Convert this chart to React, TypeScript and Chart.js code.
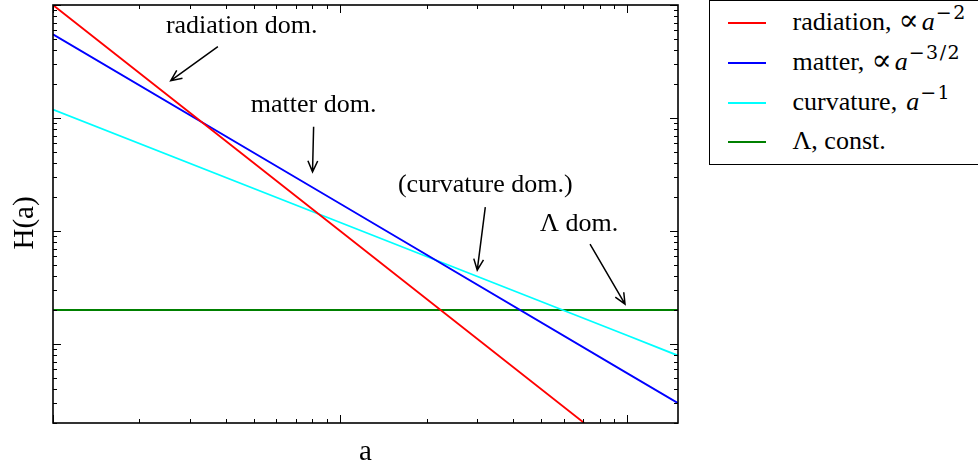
import React, { useEffect, useRef } from "react";
import { Chart, registerables } from "chart.js";

Chart.register(...registerables);

// ---- data (log-log axes) ----
const xRange = [0.01, 1.5];
const yRange = [0.2, 1000];

const radiationA = [0.01, 0.1, 0.707];
const radiationH = [1000, 10, 0.2];

const matterA = [0.01, 0.1, 1, 1.5];
const matterH = [550, 17.4, 0.55, 0.3];

const curvatureA = [0.01, 0.1, 1, 1.5];
const curvatureH = [119, 11.9, 1.19, 0.79];

const lambdaA = [0.01, 0.1, 1, 1.5];
const lambdaH = [2, 2, 2, 2];

const seriesNames = ["radiation,", "matter,", "curvature,", "Λ, const."];
const seriesProp = ["∝", "∝", "", ""];
const seriesExp = ["−2", "−3/2", "−1", ""];
const seriesColors = ["#ff0000", "#0000ff", "#00ffff", "#008000"];

const annotationTexts = ["radiation dom.", "matter dom.", "(curvature dom.)", "Λ dom."];
const annotationTextA = [0.0454, 0.0808, 0.32, 0.679];
const annotationTextH = [646, 131, 25.6, 11.5];
const arrowTailA = [0.0375, 0.0808, 0.32, 0.741];
const arrowTailH = [429, 83.7, 16.3, 7.67];
const arrowHeadA = [0.0257, 0.0801, 0.3, 0.981];
const arrowHeadH = [214, 33.4, 4.51, 2.25];

const xTitle = "a";
const yTitle = "H(a)";

const SERIF = '"Liberation Serif", "Times New Roman", Times, serif';

function logTickValues(min: number, max: number) {
  const out: { v: number; major: boolean }[] = [];
  const e0 = Math.floor(Math.log10(min));
  const e1 = Math.ceil(Math.log10(max));
  for (let e = e0; e <= e1; e++) {
    for (let k = 1; k <= 9; k++) {
      const v = k * Math.pow(10, e);
      if (v >= min * 0.9999 && v <= max * 1.0001) out.push({ v, major: k === 1 });
    }
  }
  return out;
}

const framePlugin = {
  id: "frameTicks",
  afterDatasetsDraw(chart: any) {
    const { ctx, chartArea, scales } = chart;
    const { left, right, top, bottom } = chartArea;
    ctx.save();
    ctx.strokeStyle = "#000";
    ctx.lineWidth = 1;
    const majorLen = 8;
    const minorLen = 4;
    const xs = scales.x;
    const ys = scales.y;
    for (const t of logTickValues(xRange[0], xRange[1])) {
      const px = Math.round(xs.getPixelForValue(t.v)) + 0.5;
      const len = t.major ? majorLen : minorLen;
      ctx.beginPath();
      ctx.moveTo(px, bottom);
      ctx.lineTo(px, bottom - len);
      ctx.moveTo(px, top);
      ctx.lineTo(px, top + len);
      ctx.stroke();
    }
    for (const t of logTickValues(yRange[0], yRange[1])) {
      const py = Math.round(ys.getPixelForValue(t.v)) + 0.5;
      const len = t.major ? majorLen : minorLen;
      ctx.beginPath();
      ctx.moveTo(left, py);
      ctx.lineTo(left + len, py);
      ctx.moveTo(right, py);
      ctx.lineTo(right - len, py);
      ctx.stroke();
    }
    ctx.lineWidth = 1.6;
    ctx.strokeRect(left, top, right - left, bottom - top);
    ctx.restore();
  },
};

const yTitlePlugin = {
  id: "yTitle",
  afterDraw(chart: any) {
    const { ctx, chartArea } = chart;
    ctx.save();
    ctx.fillStyle = "#000";
    ctx.font = `29px ${SERIF}`;
    ctx.textAlign = "center";
    ctx.textBaseline = "middle";
    ctx.translate(chartArea.left - 28, (chartArea.top + chartArea.bottom) / 2 + 9);
    ctx.rotate(-Math.PI / 2);
    ctx.fillText(yTitle, 0, 0);
    ctx.restore();
  },
};

const annotationPlugin = {
  id: "domAnnotations",
  afterDraw(chart: any) {
    const { ctx, scales } = chart;
    const xs = scales.x;
    const ys = scales.y;
    ctx.save();
    ctx.fillStyle = "#000";
    ctx.strokeStyle = "#000";
    ctx.lineWidth = 1.5;
    ctx.font = `26px ${SERIF}`;
    ctx.textAlign = "center";
    ctx.textBaseline = "middle";
    for (let i = 0; i < annotationTexts.length; i++) {
      const tx = xs.getPixelForValue(annotationTextA[i]);
      const ty = ys.getPixelForValue(annotationTextH[i]);
      ctx.fillText(annotationTexts[i], tx, ty);
      const x0 = xs.getPixelForValue(arrowTailA[i]);
      const y0 = ys.getPixelForValue(arrowTailH[i]);
      const x1 = xs.getPixelForValue(arrowHeadA[i]);
      const y1 = ys.getPixelForValue(arrowHeadH[i]);
      ctx.beginPath();
      ctx.moveTo(x0, y0);
      ctx.lineTo(x1, y1);
      const ang = Math.atan2(y1 - y0, x1 - x0);
      const hl = 12;
      const spread = 0.42;
      ctx.moveTo(x1 - hl * Math.cos(ang - spread), y1 - hl * Math.sin(ang - spread));
      ctx.lineTo(x1, y1);
      ctx.lineTo(x1 - hl * Math.cos(ang + spread), y1 - hl * Math.sin(ang + spread));
      ctx.stroke();
    }
    ctx.restore();
  },
};

function toPoints(a: number[], h: number[]) {
  return a.map((x, i) => ({ x, y: h[i] }));
}

export default function App() {
  const canvasRef = useRef<HTMLCanvasElement | null>(null);

  useEffect(() => {
    document.body.style.margin = "0";
    const canvas = canvasRef.current;
    if (!canvas) return;
    const pts = [
      toPoints(radiationA, radiationH),
      toPoints(matterA, matterH),
      toPoints(curvatureA, curvatureH),
      toPoints(lambdaA, lambdaH),
    ];
    const chart = new Chart(canvas, {
      type: "line",
      data: {
        datasets: pts.map((d, i) => ({
          label: seriesNames[i],
          data: d,
          borderColor: seriesColors[i],
          backgroundColor: seriesColors[i],
          borderWidth: 1.8,
          pointRadius: 0,
          fill: false,
          tension: 0,
        })),
      },
      options: {
        animation: false,
        responsive: false,
        devicePixelRatio: 1,
        layout: { padding: { left: 53, right: 300, top: 5, bottom: 0 } },
        plugins: { legend: { display: false }, tooltip: { enabled: false } },
        scales: {
          x: {
            type: "logarithmic",
            min: xRange[0],
            max: xRange[1],
            ticks: { display: false },
            grid: { display: false, drawTicks: false },
            border: { display: false },
            title: {
              display: true,
              text: xTitle,
              color: "#000",
              font: { family: SERIF, size: 29, lineHeight: 1 },
              padding: { top: 15, bottom: 1 },
            },
          },
          y: {
            type: "logarithmic",
            min: yRange[0],
            max: yRange[1],
            ticks: { display: false },
            grid: { display: false, drawTicks: false },
            border: { display: false },
            title: { display: false },
          },
        },
      },
      plugins: [framePlugin, yTitlePlugin, annotationPlugin],
    } as any);
    return () => chart.destroy();
  }, []);

  const rowCenters = [22, 62, 102, 141];

  return (
    <div
      style={{
        position: "fixed",
        left: 0,
        top: 0,
        width: 978,
        height: 468,
        overflow: "hidden",
        background: "#fff",
      }}
    >
      <canvas ref={canvasRef} width={978} height={468} style={{ display: "block" }} />
      <div
        style={{
          position: "absolute",
          left: 709,
          top: 0,
          width: 300,
          height: 165,
          border: "1.6px solid #000",
          boxSizing: "border-box",
          background: "#fff",
          fontFamily: SERIF,
          fontSize: 26,
          color: "#000",
        }}
      >
        {seriesNames.map((name, i) => (
          <div key={i}>
            <div
              style={{
                position: "absolute",
                left: 17.5,
                top: rowCenters[i] - 1,
                width: 38,
                height: 1.8,
                background: seriesColors[i],
              }}
            />
            <div
              style={{
                position: "absolute",
                left: 82.5,
                top: rowCenters[i] - 19,
                height: 36,
                lineHeight: "36px",
                whiteSpace: "nowrap",
              }}
            >
              {name}
              {seriesExp[i] ? (
                <span>
                  {seriesProp[i] ? (
                    <span
                      style={{
                        fontFamily: '"DejaVu Serif", serif',
                        fontSize: 30,
                        lineHeight: "20px",
                        marginLeft: 7,
                      }}
                    >
                      {seriesProp[i]}
                    </span>
                  ) : null}
                  <i style={{ marginLeft: seriesProp[i] ? 3 : 9 }}>a</i>
                  <span
                    style={{
                      fontFamily: '"DejaVu Serif", serif',
                      fontSize: 19,
                      lineHeight: "20px",
                      position: "relative",
                      top: -11,
                      marginLeft: 1,
                      letterSpacing: 1.5,
                    }}
                  >
                    {seriesExp[i]}
                  </span>
                </span>
              ) : null}
            </div>
          </div>
        ))}
      </div>
    </div>
  );
}
